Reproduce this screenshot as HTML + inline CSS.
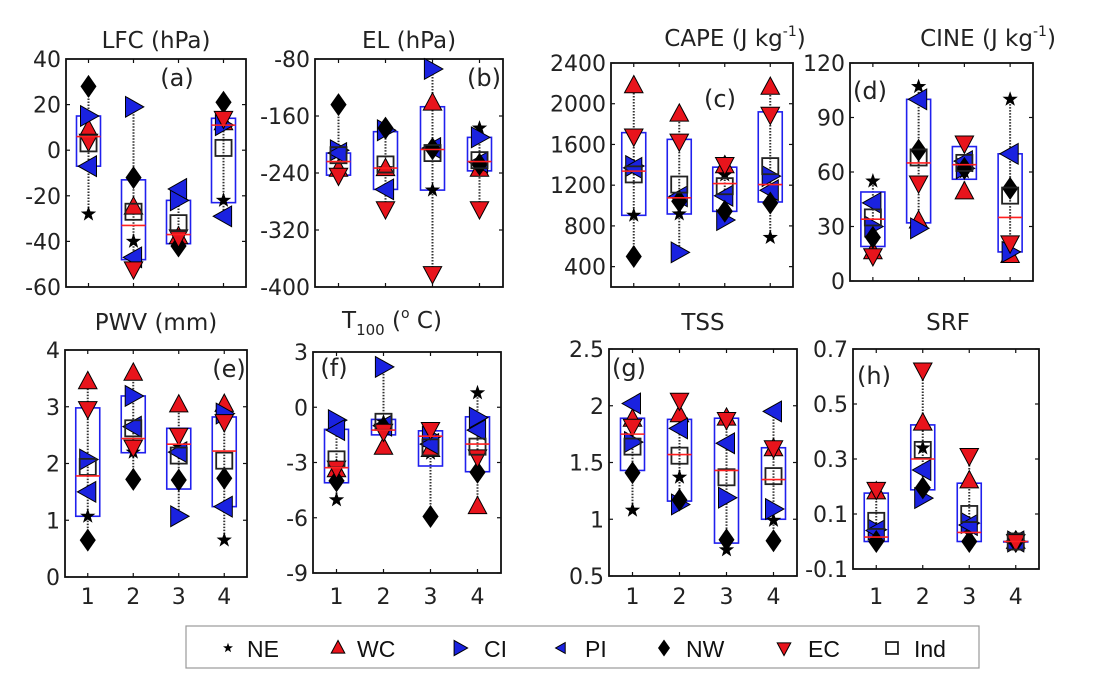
<!DOCTYPE html>
<html><head><meta charset="utf-8">
<style>
html,body{margin:0;padding:0;background:#fff;}
svg{display:block;font-family:"DejaVu Sans","Liberation Sans",sans-serif;}
</style></head>
<body>
<svg id="chart" width="1115" height="691" viewBox="0 0 1115 691" xmlns="http://www.w3.org/2000/svg">
<g id="titles" font-size="23" fill="#222" text-anchor="middle">
  <text x="156" y="48">LFC (hPa)</text>
  <text x="409" y="48">EL (hPa)</text>
  <text x="735" y="46">CAPE (J kg<tspan font-size="14" dy="-10">-1</tspan><tspan dy="10">)</tspan></text>
  <text x="988" y="46">CINE (J kg<tspan font-size="14" dy="-10">-1</tspan><tspan dy="10">)</tspan></text>
  <text x="156" y="330">PWV (mm)</text>
  <text x="392" y="328">T<tspan font-size="15" dy="7">100</tspan><tspan dy="-7"> (</tspan><tspan font-size="14" dy="-10">o</tspan><tspan dy="10"> C)</tspan></text>
  <text x="703" y="330">TSS</text>
  <text x="948" y="330">SRF</text>
</g>
<g id="panels"></g>
<g id="legend"></g>
</svg>
<script>
// ---- data (series order per category 1..4) ----
const lfcQ1=[-7,-48,-41,-23], lfcQ3=[15,-13,-22,14], lfcMed=[6,-33,-37,11];
const lfcNE=[-28,-40,-41,-22], lfcWC=[9,-25,-38,12], lfcCI=[15,19,-22,11], lfcPI=[-7,-47,-17,-29], lfcNW=[28,-12,-42,21], lfcEC=[4,-52,-38,14], lfcInd=[3,-27,-32,1];

const elQ1=[-243,-263,-264,-237], elQ3=[-212,-182,-147,-190], elMed=[-224,-233,-207,-224];
const elNE=[-212,-234,-264,-177], elWC=[-235,-234,-142,-235], elCI=[-208,-180,-94,-190], elPI=[-212,-263,-205,-225], elNW=[-144,-177,-206,-228], elEC=[-243,-290,-381,-290], elInd=[-215,-228,-212,-222];

const capeQ1=[904,917,943,1035], capeQ3=[1716,1650,1377,1920], capeMed=[1338,1076,1216,1206];
const capeNE=[904,917,1300,686], capeWC=[2176,1897,1390,2160], capeCI=[1388,540,858,1289], capePI=[1370,1090,1096,1150], capeNW=[500,1042,943,1025], capeEC=[1684,1634,1404,1897], capeInd=[1306,1206,1190,1387];

const cineQ1=[19,32,56,16], cineQ3=[49,100,74,70], cineMed=[34,65,64,35];
const cineNE=[55,107,60,100], cineWC=[16,33,49,14], cineCI=[30,29,62,16], cinePI=[43,100,66,70], cineNW=[24,72,62,51], cineEC=[14,54,76,21], cineInd=[35,68,65,47];

const pwvQ1=[1.07,2.19,1.55,1.24], pwvQ3=[2.98,3.19,2.62,2.82], pwvMed=[1.78,2.44,2.34,2.22];
const pwvNE=[1.07,2.2,2.3,0.65], pwvWC=[3.44,3.59,3.03,3.04], pwvCI=[2.07,3.19,1.07,2.88], pwvPI=[1.5,2.65,2.2,1.24], pwvNW=[0.65,1.72,1.71,1.74], pwvEC=[2.97,2.29,2.5,2.74], pwvInd=[1.94,2.62,2.14,2.05];

const tQ1=[-4.1,-1.5,-3.19,-3.5], tQ3=[-1.2,-0.66,-1.28,-0.52], tMed=[-3.28,-1.24,-1.57,-2.0];
const tNE=[-5.03,-0.8,-2.5,0.78], tWC=[-3.4,-2.18,-2.3,-5.4], tCI=[-0.7,2.19,-1.6,-0.56], tPI=[-1.24,-1.0,-2.0,-1.24], tNW=[-4.0,-1.1,-5.93,-3.53], tEC=[-3.3,-1.3,-1.2,-2.69], tInd=[-2.83,-0.79,-2.18,-2.14];

const tssQ1=[1.43,1.16,0.79,1.0], tssQ3=[1.89,1.88,1.89,1.63], tssMed=[1.75,1.57,1.43,1.35];
const tssNE=[1.08,1.37,0.73,0.99], tssWC=[1.88,1.92,1.89,1.62], tssCI=[1.68,1.13,1.19,1.09], tssPI=[2.02,1.8,1.67,1.95], tssNW=[1.41,1.17,0.82,0.81], tssEC=[1.82,2.05,1.88,1.63], tssInd=[1.64,1.56,1.37,1.38];

const srfQ1=[0,0.188,0,0], srfQ3=[0.176,0.424,0.212,0], srfMed=[0.016,0.30,0.033,0];
const srfNE=[0.02,0.34,0.03,0], srfWC=[0.18,0.43,0.22,0], srfCI=[0.043,0.158,0.067,0], srfPI=[0.04,0.26,0.06,0], srfNW=[0,0.195,0,0], srfEC=[0.19,0.624,0.313,0], srfInd=[0.075,0.333,0.10,0];

const yTicksA=[40,20,0,-20,-40,-60], yTicksB=[-80,-160,-240,-320,-400], yTicksC=[400,800,1200,1600,2000,2400],
      yTicksD=[0,30,60,90,120], yTicksE=[0,1,2,3,4], yTicksF=[-9,-6,-3,0,3], yTicksG=[0.5,1,1.5,2,2.5], yTicksH=[-0.1,0.1,0.3,0.5,0.7];
const yLabelsG=["0.5","1","1.5","2","2.5"];
const xCats=["1","2","3","4"];
const seriesNames=["NE","WC","CI","PI","NW","EC","Ind"];

// ---- layout ----
const NS="http://www.w3.org/2000/svg";
function mk(tag,attrs,parent){const e=document.createElementNS(NS,tag);for(const k in attrs)e.setAttribute(k,attrs[k]);parent.appendChild(e);return e;}
const panels=[
 {id:"lfc",L:66,R:246,T:59,B:287,ymin:-60,ymax:40,ticks:yTicksA,lab:"(a)",lx:177,ly:86,xl:false,q1:lfcQ1,q3:lfcQ3,med:lfcMed,s:[lfcNE,lfcWC,lfcCI,lfcPI,lfcNW,lfcEC,lfcInd]},
 {id:"el",L:315,R:503,T:59,B:287,ymin:-400,ymax:-80,ticks:yTicksB,lab:"(b)",lx:484,ly:86,xl:false,q1:elQ1,q3:elQ3,med:elMed,s:[elNE,elWC,elCI,elPI,elNW,elEC,elInd]},
 {id:"cape",L:611,R:793,T:63,B:287,ymin:200,ymax:2400,ticks:yTicksC,lab:"(c)",lx:720,ly:107,xl:false,q1:capeQ1,q3:capeQ3,med:capeMed,s:[capeNE,capeWC,capeCI,capePI,capeNW,capeEC,capeInd]},
 {id:"cine",L:850,R:1033,T:63,B:281,ymin:0,ymax:120,ticks:yTicksD,lab:"(d)",lx:870,ly:99,xl:false,q1:cineQ1,q3:cineQ3,med:cineMed,s:[cineNE,cineWC,cineCI,cinePI,cineNW,cineEC,cineInd]},
 {id:"pwv",L:65,R:247,T:350,B:577,ymin:0,ymax:4,ticks:yTicksE,lab:"(e)",lx:229,ly:377,xl:true,q1:pwvQ1,q3:pwvQ3,med:pwvMed,s:[pwvNE,pwvWC,pwvCI,pwvPI,pwvNW,pwvEC,pwvInd]},
 {id:"t100",L:313,R:501,T:352,B:573,ymin:-9,ymax:3,ticks:yTicksF,lab:"(f)",lx:334,ly:376,xl:true,q1:tQ1,q3:tQ3,med:tMed,s:[tNE,tWC,tCI,tPI,tNW,tEC,tInd]},
 {id:"tss",L:609,R:797,T:349,B:576,ymin:0.5,ymax:2.5,ticks:yTicksG,labels:yLabelsG,lab:"(g)",lx:629,ly:376,xl:true,q1:tssQ1,q3:tssQ3,med:tssMed,s:[tssNE,tssWC,tssCI,tssPI,tssNW,tssEC,tssInd]},
 {id:"srf",L:853,R:1039,T:349,B:569,ymin:-0.1,ymax:0.7,ticks:yTicksH,lab:"(h)",lx:874,ly:384,xl:true,q1:srfQ1,q3:srfQ3,med:srfMed,s:[srfNE,srfWC,srfCI,srfPI,srfNW,srfEC,srfInd]}
];

function marker(g,k,x,y,sc){
  sc=sc||1.15;let e;
  const P=a=>a.map(p=>(x+p[0]*sc).toFixed(1)+","+(y+p[1]*sc).toFixed(1)).join(" ");
  if(k===0){const pts=[];for(let i=0;i<10;i++){const r=i%2?2.8:7,a=-Math.PI/2+i*Math.PI/5;pts.push([r*Math.cos(a),r*Math.sin(a)]);}
    e=mk("polygon",{points:P(pts),fill:"#000"},g);}
  else if(k===1)e=mk("polygon",{points:P([[0,-9],[8,6],[-8,6]]),fill:"#e8141c",stroke:"#000","stroke-width":1},g);
  else if(k===2)e=mk("polygon",{points:P([[-7,-9],[9,0],[-7,9]]),fill:"#1a22e0",stroke:"#000","stroke-width":1},g);
  else if(k===3)e=mk("polygon",{points:P([[7,-9],[-9,0],[7,9]]),fill:"#1a22e0",stroke:"#000","stroke-width":1},g);
  else if(k===4)e=mk("polygon",{points:P([[0,-10],[7,0],[0,10],[-7,0]]),fill:"#000"},g);
  else if(k===5)e=mk("polygon",{points:P([[0,9],[8,-6],[-8,-6]]),fill:"#e8141c",stroke:"#000","stroke-width":1},g);
  else e=mk("rect",{x:x-7*sc,y:y-7*sc,width:14*sc,height:14*sc,fill:"none",stroke:"#222","stroke-width":1.8},g);
  return e;
}

const root=document.getElementById("panels");
panels.forEach(p=>{
  const g=mk("g",{},root);
  
  
  const xS=i=>p.L+(p.R-p.L)*(i+0.5)/4;
  const yS=v=>p.B-(v-p.ymin)/(p.ymax-p.ymin)*(p.B-p.T);
  const fr=mk("rect",{x:p.L,y:p.T,width:p.R-p.L,height:p.B-p.T,fill:"none",stroke:"#111","stroke-width":1.8},g);
  
  
  p.ticks.forEach((t,i)=>{
    const y=yS(t);
    mk("line",{x1:p.L,x2:p.L+4,y1:y,y2:y,stroke:"#111","stroke-width":1.2},g);
    mk("line",{x1:p.R,x2:p.R-4,y1:y,y2:y,stroke:"#111","stroke-width":1.2},g);
    const tx=mk("text",{x:p.L-5,y:y+8,"text-anchor":"end","font-size":22,fill:"#222"},g);
    tx.textContent=p.labels?p.labels[i]:String(t);
    
    
  });
  xCats.forEach((c,i)=>{
    const x=xS(i);
    mk("line",{x1:x,x2:x,y1:p.B,y2:p.B-4,stroke:"#111","stroke-width":1.2},g);
    mk("line",{x1:x,x2:x,y1:p.T,y2:p.T+4,stroke:"#111","stroke-width":1.2},g);
    if(p.xl){const tx=mk("text",{x:x,y:604,"text-anchor":"middle","font-size":22,fill:"#222"},g);tx.textContent=c;
      
      }
  });
  const lb=mk("text",{x:p.lx,y:p.ly,"text-anchor":"middle","font-size":24,fill:"#222"},g);
  lb.textContent=p.lab;
  
  
  xCats.forEach((c,i)=>{
    const x=xS(i);
    const vals=p.s.map(a=>a[i]).concat([p.q1[i],p.q3[i]]);
    const mn=Math.min(...vals),mx=Math.max(...vals);
    const w=mk("line",{x1:x,x2:x,y1:yS(mn),y2:yS(mx),stroke:"#333","stroke-width":2,"stroke-dasharray":"1.5 1.5"},g);
    
    
    const bx=mk("rect",{x:x-12,y:yS(p.q3[i]),width:24,height:Math.max(0.5,yS(p.q1[i])-yS(p.q3[i])),fill:"none",stroke:"#2020ee","stroke-width":1.6},g);
    
    
    p.s.forEach((arr,k)=>{
      const m=marker(g,k,x,yS(arr[i]));
      
      
    });
    const md=mk("line",{x1:x-12,x2:x+12,y1:yS(p.med[i]),y2:yS(p.med[i]),stroke:"#ff2020","stroke-width":1.6},g);
    
    
  });
});

// legend
const lg=document.getElementById("legend");
mk("rect",{x:186,y:626,width:793,height:42,fill:"#fff",stroke:"#999","stroke-width":1.2},lg);
const legMX=[228,338,460,561,664,784,892], legTX=[247,357,484,585,686,808,914];
seriesNames.forEach((n,k)=>{
  const eg=mk("g",{},lg);
  
  
  marker(eg,k,legMX[k],648,k===0?0.75:(k===3?0.6:0.85));
  const t=mk("text",{x:legTX[k],y:657,"font-size":23,fill:"#111","font-family":"Liberation Sans, sans-serif"},eg);
  t.textContent=n;
});
</script>
</body></html>
